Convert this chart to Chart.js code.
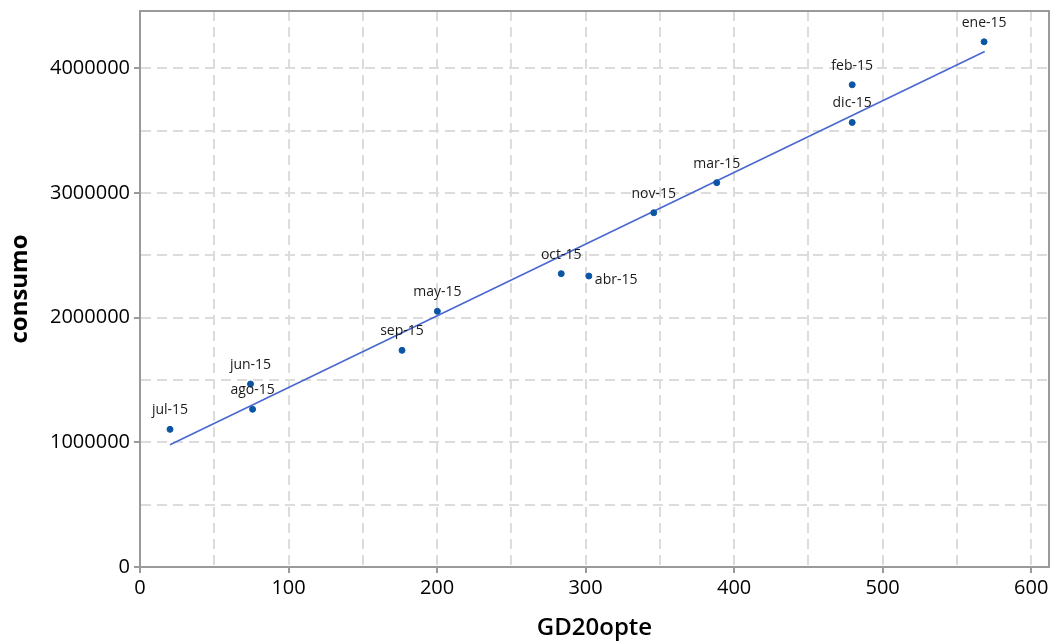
<!DOCTYPE html>
<html lang="es">
<head>
  <meta charset="UTF-8">
  <title>consumo vs GD20opte</title>
  <script src="https://cdn.jsdelivr.net/npm/chart.js@4/dist/chart.umd.min.js"></script>
</head>
<style>
* {
  margin: 0;
  padding: 0;
  box-sizing: border-box;
}
html, body {
  background: #fff;
}
.wrap {
  width: 1056px;
  height: 643px;
  position: relative;
}
</style>
<body>
<div class="wrap">
  <canvas id="chart"></canvas>
</div>
<script>
// data
const months = ["jul-15", "jun-15", "ago-15", "sep-15", "may-15", "oct-15", "abr-15", "nov-15", "mar-15", "dic-15", "feb-15", "ene-15"];
const gd20 = [20.2, 74.4, 75.8, 176.4, 200.2, 283.6, 302.2, 345.9, 388.3, 479.5, 479.5, 568.3];
const consumo = [1104000, 1468000, 1265000, 1738000, 2051000, 2353000, 2334000, 2842000, 3083000, 3566000, 3868000, 4213000];

// fitted line end points (as drawn in the reference)
const fitX = [20.2, 568.7];
const fitY = [981000, 4135000];

// tick values
const xTicks = [0, 50, 100, 150, 200, 250, 300, 350, 400, 450, 500, 550, 600];
const yTicks = [0, 500000, 1000000, 1500000, 2000000, 2500000, 3000000, 3500000, 4000000];

// where each label sits relative to its point
const labelSide = ["above", "above", "above", "above", "above", "above", "right", "above", "above", "above", "above", "above"];

const pointColor = "#0a56a5";
const lineColor = "#4a68cf";
const gridColor = "#dcdcdc";
const axisColor = "#9a9a9a";

const isMajor = (v, step) => Math.abs(Math.round(v / step) * step - v) < step * 1e-6;

const labelPlugin = {
  id: "pointLabels",
  afterDatasetsDraw(chart) {
    const ctx = chart.ctx;
    const xs = chart.scales.x;
    const ys = chart.scales.y;
    ctx.save();
    ctx.font = "14px 'Open Sans', sans-serif";
    ctx.fillStyle = "#1a1a1a";
    months.forEach((m, i) => {
      const px = xs.getPixelForValue(gd20[i]);
      const py = ys.getPixelForValue(consumo[i]);
      ctx.textBaseline = "middle";
      if (labelSide[i] === "right") {
        ctx.textAlign = "left";
        ctx.fillText(m, px + 6, py + 4);
      } else {
        ctx.textAlign = "center";
        ctx.fillText(m, px, py - 19);
      }
    });
    ctx.restore();
  }
};

const boxPlugin = {
  id: "frame",
  afterDraw(chart) {
    const a = chart.chartArea;
    const ctx = chart.ctx;
    ctx.save();
    ctx.strokeStyle = axisColor;
    ctx.lineWidth = 2;
    ctx.strokeRect(a.left, a.top, a.right - a.left, a.bottom - a.top);
    ctx.restore();
  }
};

const scatterPts = gd20.map((v, i) => ({ x: v, y: consumo[i] }));
const fitPts = fitX.map((v, i) => ({ x: v, y: fitY[i] }));

new Chart(document.getElementById("chart"), {
  type: "scatter",
  plugins: [labelPlugin, boxPlugin],
  data: {
    datasets: [
      {
        data: scatterPts,
        backgroundColor: pointColor,
        borderColor: pointColor,
        pointRadius: 3,
        order: 1
      },
      {
        type: "line",
        data: fitPts,
        borderColor: lineColor,
        borderWidth: 1.6,
        pointRadius: 0,
        fill: false,
        order: 2
      }
    ]
  },
  options: {
    responsive: true,
    maintainAspectRatio: false,
    animation: false,
    layout: { padding: { top: 11, right: 7, left: 0, bottom: 0 } },
    plugins: {
      legend: { display: false },
      tooltip: { enabled: false }
    },
    scales: {
      x: {
        type: "linear",
        min: 0,
        max: 612,
        afterFit: (s) => { s.height = 76; s.paddingLeft = 0; s.paddingRight = 0; },
        afterBuildTicks: (s) => { s.ticks = xTicks.map((v) => ({ value: v })); },
        border: { display: true, color: axisColor, width: 2, dash: [10, 6] },
        grid: {
          color: gridColor,
          lineWidth: 2,
          drawTicks: true,
          tickLength: 6,
          tickBorderDash: [],
          tickColor: (c) => (c.tick && isMajor(c.tick.value, 100) ? axisColor : "rgba(0,0,0,0)")
        },
        ticks: {
          autoSkip: false,
          maxRotation: 0,
          padding: 3,
          color: "#000",
          font: { family: "'Open Sans', sans-serif", size: 20 },
          callback: (v) => (isMajor(v, 100) ? String(Math.round(v)) : "")
        },
        title: {
          display: true,
          text: "GD20opte",
          color: "#000",
          padding: { top: 0, bottom: 0 },
          font: { family: "'Open Sans', sans-serif", size: 24, weight: "600" }
        }
      },
      y: {
        type: "linear",
        min: 0,
        max: 4460000,
        afterFit: (s) => { s.width = 140; s.paddingTop = 0; s.paddingBottom = 0; },
        afterBuildTicks: (s) => { s.ticks = yTicks.map((v) => ({ value: v })); },
        border: { display: true, color: axisColor, width: 2, dash: [10, 6] },
        grid: {
          color: gridColor,
          lineWidth: 2,
          drawTicks: true,
          tickLength: 6,
          tickBorderDash: [],
          tickColor: (c) => (c.tick && isMajor(c.tick.value, 1000000) ? axisColor : "rgba(0,0,0,0)")
        },
        ticks: {
          autoSkip: false,
          padding: 4,
          color: "#000",
          font: { family: "'Open Sans', sans-serif", size: 20 },
          callback: (v) => (isMajor(v, 1000000) ? String(Math.round(v)) : "")
        },
        title: {
          display: true,
          text: "consumo",
          color: "#000",
          padding: { top: 6, bottom: 0 },
          font: { family: "'Open Sans', sans-serif", size: 24, weight: "bold" }
        }
      }
    }
  }
});
</script>
</body>
</html>
